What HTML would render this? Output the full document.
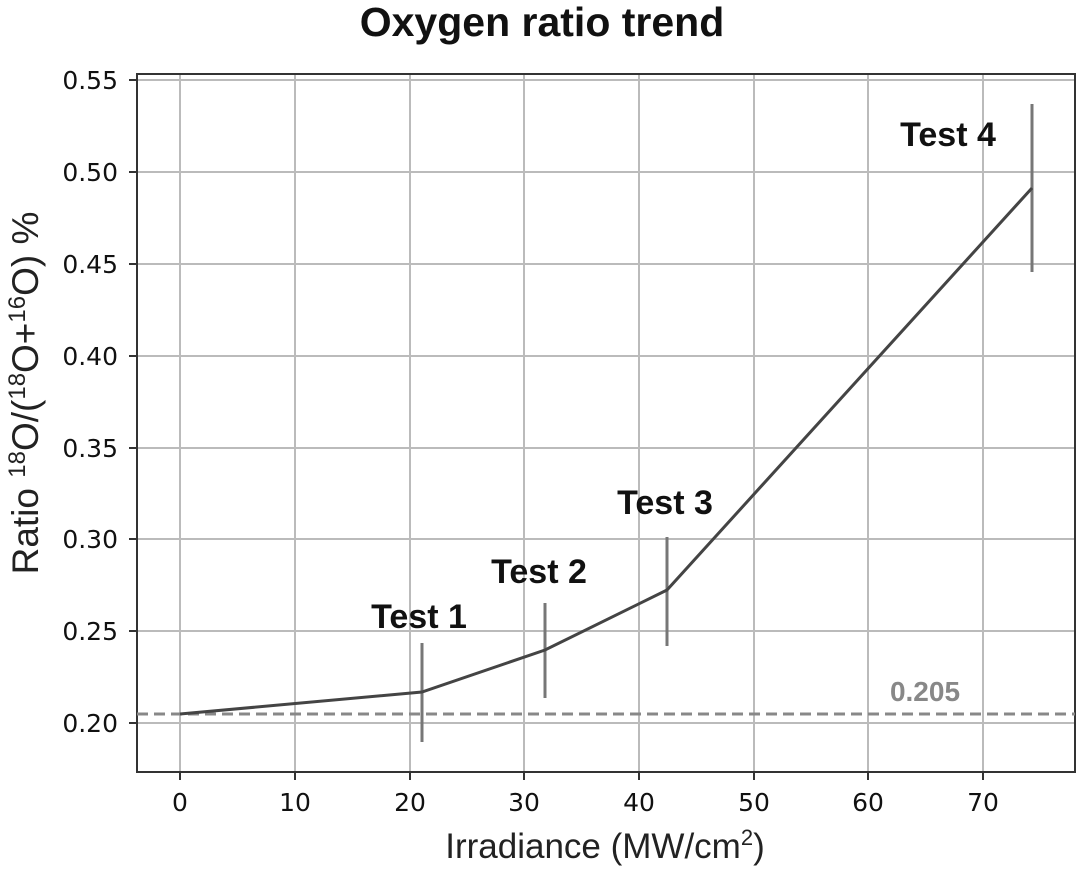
<!DOCTYPE html>
<html><head><style>body{margin:0;background:#fff}</style></head><body>
<svg width="1080" height="866" xmlns="http://www.w3.org/2000/svg" font-family="Liberation Sans, DejaVu Sans, sans-serif">
<rect width="1080" height="866" fill="#fff"/>
<text x="542" y="36" text-anchor="middle" font-size="41" font-weight="bold" fill="#111">Oxygen ratio trend</text>
<g stroke="#bbb" stroke-width="2">
<line x1="180" y1="74" x2="180" y2="772"/><line x1="295" y1="74" x2="295" y2="772"/><line x1="410" y1="74" x2="410" y2="772"/><line x1="524" y1="74" x2="524" y2="772"/><line x1="639" y1="74" x2="639" y2="772"/><line x1="754" y1="74" x2="754" y2="772"/><line x1="868" y1="74" x2="868" y2="772"/><line x1="983" y1="74" x2="983" y2="772"/>
<line x1="137" y1="723" x2="1075" y2="723"/><line x1="137" y1="631" x2="1075" y2="631"/><line x1="137" y1="539" x2="1075" y2="539"/><line x1="137" y1="448" x2="1075" y2="448"/><line x1="137" y1="356" x2="1075" y2="356"/><line x1="137" y1="264" x2="1075" y2="264"/><line x1="137" y1="172" x2="1075" y2="172"/><line x1="137" y1="80" x2="1075" y2="80"/>
</g>
<rect x="137" y="74" width="938" height="698" fill="none" stroke="#333" stroke-width="2"/>
<g stroke="#333" stroke-width="2">
<line x1="180" y1="772" x2="180" y2="780"/><line x1="295" y1="772" x2="295" y2="780"/><line x1="410" y1="772" x2="410" y2="780"/><line x1="524" y1="772" x2="524" y2="780"/><line x1="639" y1="772" x2="639" y2="780"/><line x1="754" y1="772" x2="754" y2="780"/><line x1="868" y1="772" x2="868" y2="780"/><line x1="983" y1="772" x2="983" y2="780"/>
<line x1="129" y1="723" x2="137" y2="723"/><line x1="129" y1="631" x2="137" y2="631"/><line x1="129" y1="539" x2="137" y2="539"/><line x1="129" y1="448" x2="137" y2="448"/><line x1="129" y1="356" x2="137" y2="356"/><line x1="129" y1="264" x2="137" y2="264"/><line x1="129" y1="172" x2="137" y2="172"/><line x1="129" y1="80" x2="137" y2="80"/>
</g>
<g font-size="25" fill="#111" text-anchor="middle" font-family="DejaVu Sans, sans-serif">
<text x="180" y="811">0</text><text x="295" y="811">10</text><text x="410" y="811">20</text><text x="524" y="811">30</text><text x="639" y="811">40</text><text x="754" y="811">50</text><text x="868" y="811">60</text><text x="983" y="811">70</text>
</g>
<g font-size="25" fill="#111" text-anchor="end" font-family="DejaVu Sans, sans-serif">
<text x="118" y="732">0.20</text><text x="118" y="640">0.25</text><text x="118" y="548">0.30</text><text x="118" y="457">0.35</text><text x="118" y="365">0.40</text><text x="118" y="273">0.45</text><text x="118" y="181">0.50</text><text x="118" y="89">0.55</text>
</g>
<text x="605" y="858" text-anchor="middle" font-size="35" fill="#222">Irradiance (MW/cm<tspan dy="-13" font-size="22">2</tspan><tspan dy="13">)</tspan></text>
<text transform="translate(38,393) rotate(-90)" text-anchor="middle" font-size="37" fill="#222">Ratio <tspan dy="-13" font-size="24">18</tspan><tspan dy="13">O/(</tspan><tspan dy="-13" font-size="24">18</tspan><tspan dy="13">O+</tspan><tspan dy="-13" font-size="24">16</tspan><tspan dy="13">O) %</tspan></text>
<line x1="137" y1="714" x2="1075" y2="714" stroke="#888" stroke-width="3" stroke-dasharray="11,6"/>
<text x="925" y="701" text-anchor="middle" font-size="28" font-weight="bold" fill="#888">0.205</text>
<g stroke="#777" stroke-width="3">
<line x1="422" y1="643" x2="422" y2="742"/><line x1="545" y1="603" x2="545" y2="698"/><line x1="667" y1="537" x2="667" y2="646"/><line x1="1032" y1="104" x2="1032" y2="272"/>
</g>
<polyline points="180,714 422,692 545,650 667,590 1032,188" fill="none" stroke="#444" stroke-width="3"/>
<g font-size="34" font-weight="bold" fill="#111" text-anchor="middle">
<text x="419" y="628">Test 1</text><text x="539" y="583">Test 2</text><text x="665" y="514">Test 3</text><text x="948" y="146">Test 4</text>
</g>
</svg>
</body></html>
